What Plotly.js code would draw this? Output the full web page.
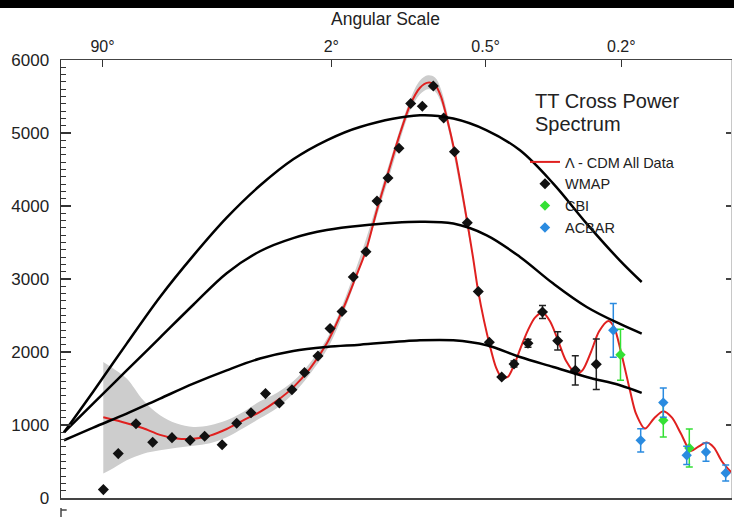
<!DOCTYPE html>
<html>
<head>
<meta charset="utf-8">
<script src="https://cdn.plot.ly/plotly-3.0.1.min.js"></script>
<style>
html,body{margin:0;padding:0;background:#fff;}
#wrap{position:relative;width:734px;height:517px;}
#chart{width:734px;height:517px;}
#topband{position:absolute;left:0;top:0;width:734px;height:8px;background:#000;z-index:10;}
</style>
</head>
<body>
<div id="wrap">
<div id="chart"></div>
<div id="topband"></div>
</div>
<script>
// ---- data (multipole l, power in uK^2) ----
const angleTickL = [2, 90, 360, 900];
const angleTickText = ['90°', '2°', '0.5°', '0.2°'];

const wmapL = [2.05, 3.03, 4.62, 6.62, 9.67, 13.4, 17.1, 22.5, 27.9, 34.1, 41.4, 49.4, 57.6, 66.8, 77.8, 88.8, 100.8, 113.2, 128.5, 143.0, 158.6, 175.5, 194.9, 215.7, 236.9, 258.3, 282.1, 312.4, 340.3, 370.1, 405.9, 443.9, 490.4, 542.3, 601.0, 674.8, 771.5];
const wmapPower = [115, 608, 1017, 763, 827, 790, 845, 729, 1023, 1167, 1430, 1302, 1482, 1718, 1944, 2321, 2554, 3028, 3373, 4069, 4384, 4791, 5403, 5366, 5644, 5205, 4743, 3770, 2828, 2133, 1658, 1836, 2119, 2548, 2154, 1749, 1832];
const wmapErr = [0, 0, 0, 0, 0, 0, 0, 0, 0, 0, 0, 0, 0, 0, 0, 0, 0, 0, 0, 0, 0, 0, 0, 0, 0, 0, 0, 0, 0, 0, 0, 40, 55, 90, 125, 200, 345];

const cbiL = [895.4, 1150.5, 1329.9];
const cbiPower = [1962, 1064, 685];
const cbiErr = [350, 230, 260];

const acbarL = [857.1, 1009.8, 1150.5, 1311.1, 1455.7, 1615.4];
const acbarPower = [2297, 790, 1307, 585, 630, 343];
const acbarErr = [368, 160, 200, 125, 125, 110];

const modelL = [2.045, 3.725, 5.43, 7.68, 10.56, 14.16, 18.64, 24.10, 30.6, 38.5, 47.8, 58.5, 71.1, 85.7, 102.2, 115.2, 128.5, 143.0, 158.6, 175.5, 193.7, 211.4, 226.5, 240.3, 252.6, 265.4, 283.3, 299.6, 311.7, 326.6, 339.5, 355.5, 372.0, 389.1, 406.8, 425.0, 443.9, 466.7, 490.4, 514.9, 543.0, 570.7, 602.2, 634.9, 680.9, 709.1, 746.1, 784.6, 831.2, 860.8, 898.1, 947.9, 982.3, 1035.5, 1090.9, 1150.5, 1208.4, 1270.5, 1340.1, 1394.3, 1461.1, 1519.0, 1584.4, 1686.4];
const modelPower = [1105, 1025, 955, 865, 815, 812, 855, 945, 1064, 1180, 1330, 1515, 1773, 2115, 2600, 3000, 3390, 3950, 4450, 4950, 5380, 5620, 5690, 5660, 5500, 5200, 4720, 4200, 3800, 3300, 2850, 2430, 2080, 1790, 1645, 1660, 1820, 2070, 2300, 2470, 2540, 2420, 2160, 1880, 1700, 1760, 2000, 2280, 2425, 2343, 2000, 1473, 1156, 951, 1090, 1188, 1100, 880, 644, 700, 759, 690, 500, 311];

const bandL = [2.045, 2.67, 3.725, 5.43, 7.68, 10.56, 14.16, 18.64, 24.10, 30.6, 38.5, 47.8, 58.5, 71.1, 88.8, 121.1, 161.6, 193.7, 211.4, 226.5, 240.3, 252.6, 272.0, 319.1];
const bandUpper = [1863, 1773, 1636, 1338, 1133, 1019, 973, 996, 1064, 1178, 1325, 1440, 1600, 1850, 2260, 3300, 4620, 5450, 5720, 5790, 5760, 5600, 5100, 3620];
const bandLower = [334, 407, 516, 606, 653, 688, 715, 749, 832, 955, 1092, 1230, 1430, 1700, 2110, 3150, 4440, 5300, 5530, 5600, 5570, 5420, 4950, 3480];

const curveL = [0.576, 1.536, 3.725, 7.68, 14.16, 24.10, 38.5, 58.5, 85.7, 121.1, 211.4, 279.4, 362.9, 463.4, 583.5, 726.1, 892.7, 1015.8];
const curveHigh = [900, 1460, 2115, 2754, 3320, 3840, 4280, 4640, 4900, 5083, 5243, 5198, 5037, 4763, 4307, 3759, 3252, 2959];
const curveMid = [900, 1296, 1747, 2197, 2647, 3080, 3380, 3560, 3670, 3730, 3785, 3759, 3599, 3302, 2937, 2617, 2384, 2252];
const curveLow = [791, 965, 1156, 1362, 1567, 1749, 1910, 2014, 2069, 2100, 2160, 2160, 2092, 1932, 1795, 1658, 1544, 1439];

// the horizontal scale of the figure is linear in l^(1/4)
const toX = arr => arr.map(l => Math.pow(l, 0.25));

const FONT = 'Liberation Sans, Arial, Helvetica, sans-serif';
const RED = '#e0201f', GREEN = '#34e034', BLUE = '#2a8be0';

const traces = [
  {x: toX(bandL), y: bandLower, mode: 'lines', line: {width: 0, shape: 'spline'}, showlegend: false, hoverinfo: 'skip'},
  {x: toX(bandL), y: bandUpper, mode: 'lines', line: {width: 0, shape: 'spline'}, fill: 'tonexty', fillcolor: '#cdcdcd', showlegend: false, hoverinfo: 'skip'},
  {x: toX(modelL), y: modelPower, mode: 'lines', name: 'Λ - CDM All Data', line: {color: RED, width: 2, shape: 'spline', smoothing: 0.8}},
  {x: toX(wmapL), y: wmapPower, mode: 'markers', name: 'WMAP', marker: {symbol: 'diamond', size: 8.5, color: '#111'},
   error_y: {type: 'data', array: wmapErr, visible: true, color: '#222', thickness: 1.5, width: 3.5}},
  {x: toX(cbiL), y: cbiPower, mode: 'markers', name: 'CBI', marker: {symbol: 'diamond', size: 8, color: GREEN},
   error_y: {type: 'data', array: cbiErr, visible: true, color: GREEN, thickness: 1.5, width: 3.5}},
  {x: toX(acbarL), y: acbarPower, mode: 'markers', name: 'ACBAR', marker: {symbol: 'diamond', size: 8, color: BLUE},
   error_y: {type: 'data', array: acbarErr, visible: true, color: BLUE, thickness: 1.5, width: 3.5}},
  {x: toX(curveL), y: curveHigh, yaxis: 'y2', mode: 'lines', name: 'curve 1', line: {color: '#000', width: 2.5, shape: 'spline'}, showlegend: false, hoverinfo: 'skip'},
  {x: toX(curveL), y: curveMid, yaxis: 'y2', mode: 'lines', name: 'curve 2', line: {color: '#000', width: 2.5, shape: 'spline'}, showlegend: false, hoverinfo: 'skip'},
  {x: toX(curveL), y: curveLow, yaxis: 'y2', mode: 'lines', name: 'curve 3', line: {color: '#000', width: 2.5, shape: 'spline'}, showlegend: false, hoverinfo: 'skip'}
];

const layout = {
  width: 734, height: 517,
  margin: {l: 61, r: 3, t: 60, b: 19, pad: 0},
  paper_bgcolor: '#fff', plot_bgcolor: '#fff',
  font: {family: FONT, color: '#222'},
  showlegend: true,
  hovermode: false,
  xaxis: {
    side: 'top', range: [0.8463, 6.3835], autorange: false,
    tickmode: 'array', tickvals: toX(angleTickL), ticktext: angleTickText,
    ticks: 'inside', ticklen: 7, tickwidth: 1.5, tickcolor: '#333',
    tickfont: {size: 16, color: '#222'},
    showline: true, mirror: true, linecolor: '#444', linewidth: 1.5,
    showgrid: false, zeroline: false
  },
  yaxis: {
    range: [0, 6000], autorange: false, dtick: 1000, tick0: 0,
    ticks: 'inside', ticklen: 10, tickwidth: 1.5, tickcolor: '#333',
    minor: {ticks: 'inside', ticklen: 5, dtick: 100, tickwidth: 1, tickcolor: '#333', showgrid: false},
    tickfont: {size: 17, color: '#222'},
    ticklabelstandoff: 7,
    showline: true, linecolor: '#333', linewidth: 1.5,
    showgrid: false, zeroline: false
  },
  yaxis2: {
    overlaying: 'y', side: 'right', range: [0, 6000], autorange: false, dtick: 1000,
    ticks: 'inside', ticklen: 5, tickwidth: 1.5, tickcolor: '#444',
    showticklabels: false, showline: true, linecolor: '#c8c8c8', linewidth: 1,
    showgrid: false, zeroline: false
  },
  legend: {
    x: 0.6925, y: 0.8037, xanchor: 'left', yanchor: 'top',
    traceorder: 'normal',
    bgcolor: 'rgba(0,0,0,0)', borderwidth: 0,
    font: {family: FONT, size: 14.5, color: '#222'},
    itemwidth: 30, tracegroupgap: 0
  },
  annotations: [
    {text: 'Angular Scale', xref: 'paper', yref: 'paper', x: 0.4836, y: 1.0936, xanchor: 'center', yanchor: 'middle', showarrow: false, font: {size: 17.5, color: '#222'}},
    {text: 'TT Cross Power', xref: 'paper', yref: 'paper', x: 0.705, y: 0.9053, xanchor: 'left', yanchor: 'middle', showarrow: false, font: {size: 20, color: '#222'}},
    {text: 'Spectrum', xref: 'paper', yref: 'paper', x: 0.705, y: 0.8539, xanchor: 'left', yanchor: 'middle', showarrow: false, font: {size: 20, color: '#222'}}
  ],
  shapes: [
    {type: 'line', xref: 'paper', yref: 'paper', x0: 0, x1: 0, y0: -0.0228, y1: -0.045, line: {color: '#444', width: 1.5}},
    {type: 'line', xref: 'paper', yref: 'paper', x0: 0, x1: 0.0085, y0: -0.0274, y1: -0.0274, line: {color: '#444', width: 1.5}}
  ]
};

Plotly.newPlot('chart', traces, layout, {displayModeBar: false, staticPlot: true});
</script>
</body>
</html>
